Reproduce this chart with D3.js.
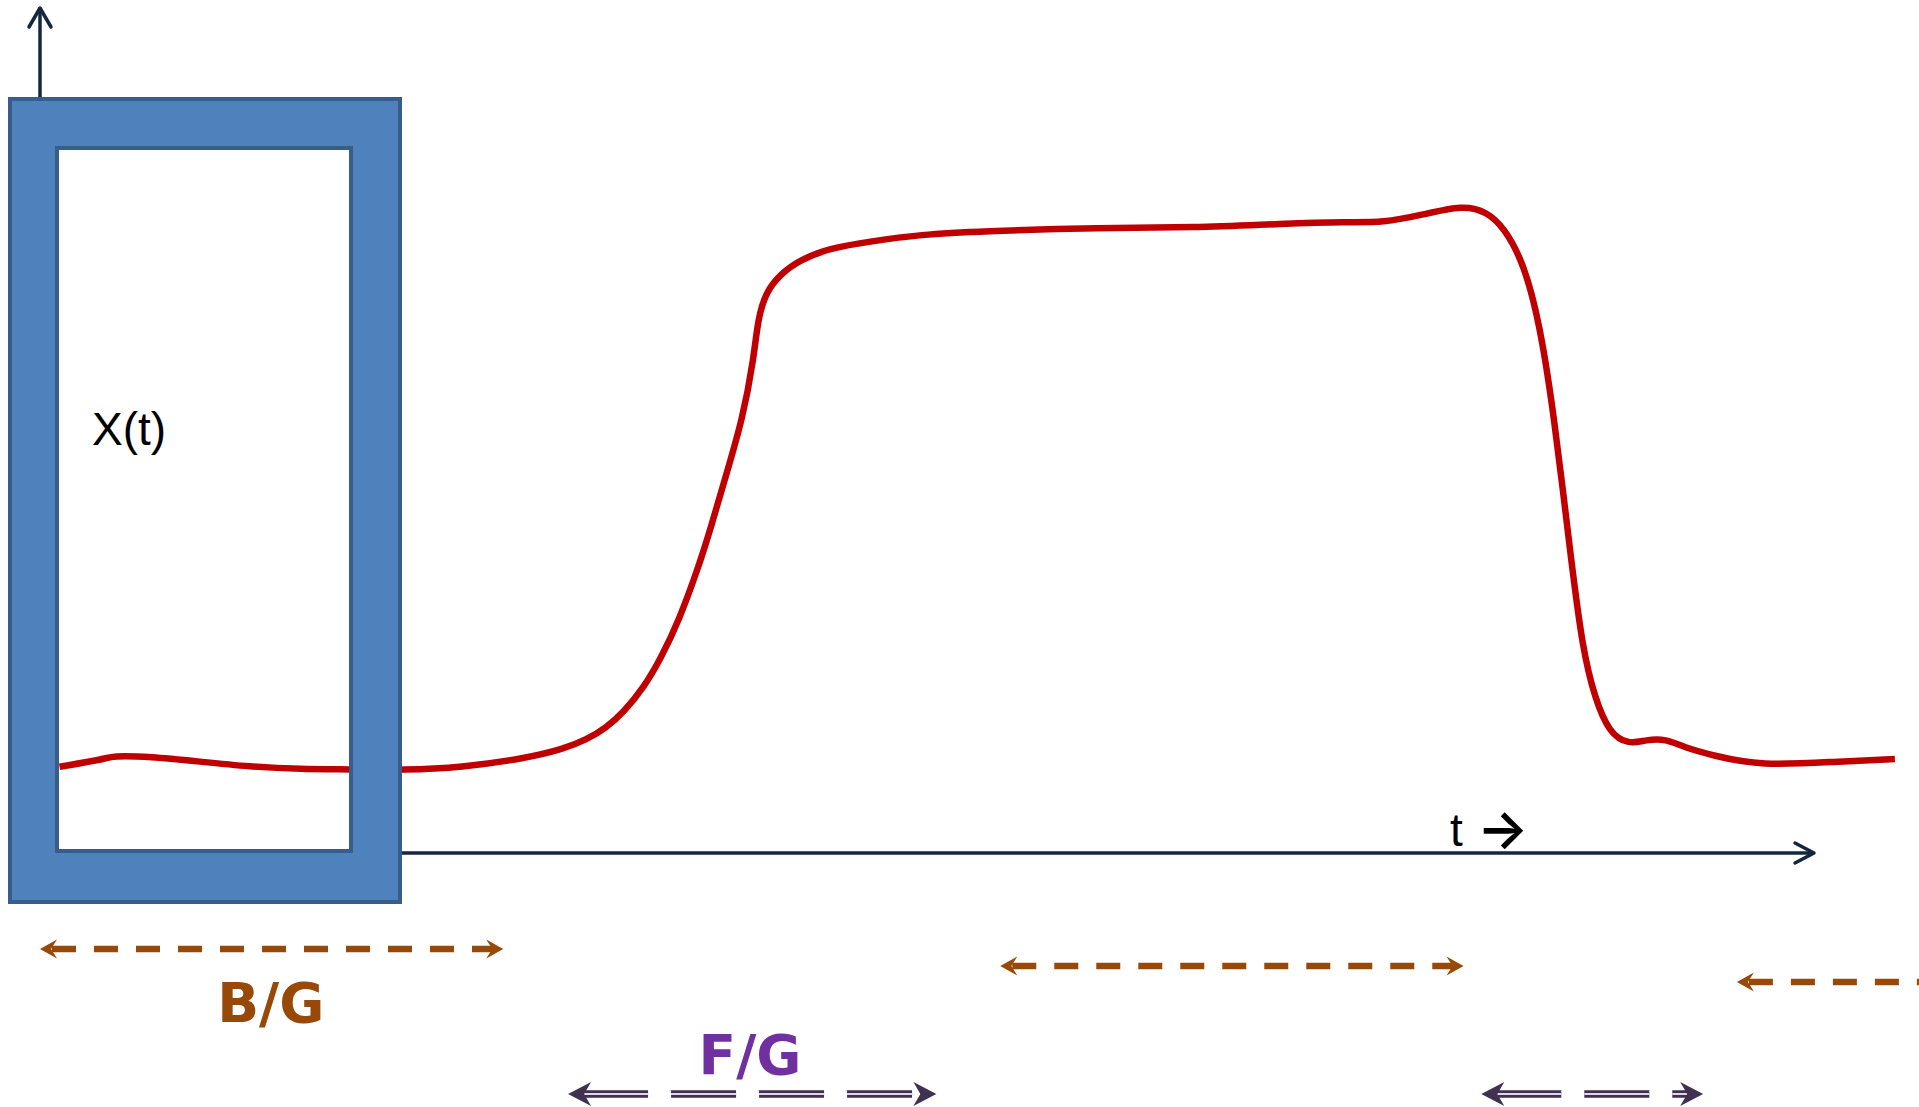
<!DOCTYPE html>
<html>
<head>
<meta charset="utf-8">
<script src="https://cdn.jsdelivr.net/npm/d3@7"></script>
<style>
html,body{margin:0;padding:0;background:#ffffff;overflow:hidden}
</style>
</head>
<body>
<svg id="chart" width="1919" height="1107"></svg>
<script>
// ---- data (t in time units 0..100 along the axis, X in signal units 0..100) ----
const curveT = [1.1, 3.7, 4.0, 6.2, 9.0, 11.8, 14.7, 17.5, 20.5, 23.7, 27.4, 29.5, 30.8, 31.9, 32.9, 34.0, 35.0, 36.0, 37.1, 37.8, 38.5, 39.6, 40.2, 40.45, 40.9, 41.7, 42.8, 44.5, 46.8, 49.6, 52.9, 59.8, 65.0, 70.1, 73.6, 75.7, 77.8, 80.2, 81.5, 82.5, 83.6, 84.5, 85.3, 86.2, 86.9, 87.6, 88.4, 89.5, 90.5, 91.6, 92.6, 94.3, 96.9, 101.2, 104.5];
const curveX = [10.2, 11.1, 11.5, 11.4, 10.8, 10.2, 9.9, 9.9, 9.8, 10.1, 11.2, 12.3, 13.4, 14.8, 16.7, 19.5, 23.1, 27.5, 33.8, 38.5, 43.6, 51.4, 58.3, 63.2, 66.3, 68.4, 70.1, 71.5, 72.3, 73.1, 73.5, 73.9, 73.9, 74.4, 74.6, 74.5, 75.4, 76.6, 75.8, 73.9, 69.7, 62.5, 51.7, 35.7, 24.1, 18.3, 14.2, 12.8, 13.4, 13.5, 12.5, 11.5, 10.3, 10.8, 11.1];

const bgSpans = [[0, 26.1], [54.1, 80.2], [95.6, 110]];   // background (B/G) intervals
const fgSpans = [[29.75, 50.5], [81.2, 93.7]];          // foreground (F/G) intervals
const spanLabels = ["B/G", "F/G"];
const spanLabelT = [13.0, 40.0];
const axisLabels = ["X(t)", "t", "\u2192"];

// ---- scales ----
const x = d3.scaleLinear().domain([0, 100]).range([40, 1815]);
const y = d3.scaleLinear().domain([0, 100]).range([853, 7]);

const svg = d3.select("#chart");
const axisColor = "#13273f";
const orange = "#984807";
const purpleText = "#7030a0";
const purpleLine = "#403151";

// ---- axes ----
svg.append("line")
  .attr("x1", x(0)).attr("y1", y(0)).attr("x2", x(0)).attr("y2", y(100) + 1)
  .attr("stroke", axisColor).attr("stroke-width", 3.5);
svg.append("path")
  .attr("d", `M${x(0) - 11},${y(100) + 20} L${x(0)},${y(100) + 1} L${x(0) + 11},${y(100) + 20}`)
  .attr("fill", "none").attr("stroke", axisColor).attr("stroke-width", 3.5)
  .attr("stroke-linecap", "round").attr("stroke-linejoin", "round");

svg.append("line")
  .attr("x1", x(0)).attr("y1", y(0)).attr("x2", x(100) - 1).attr("y2", y(0))
  .attr("stroke", axisColor).attr("stroke-width", 3.5);
svg.append("path")
  .attr("d", `M${x(100) - 20},${y(0) - 10} L${x(100) - 1},${y(0)} L${x(100) - 20},${y(0) + 10}`)
  .attr("fill", "none").attr("stroke", axisColor).attr("stroke-width", 3.5)
  .attr("stroke-linecap", "round").attr("stroke-linejoin", "round");

// ---- signal curve ----
const pts = curveT.map((t, i) => [t, curveX[i]]);
const line = d3.line().x(d => x(d[0])).y(d => y(d[1])).curve(d3.curveBasis);
svg.append("path")
  .attr("d", line(pts))
  .attr("fill", "none").attr("stroke", "#c00000").attr("stroke-width", 6.5)
  .attr("stroke-linejoin", "round");

// ---- window frame ----
const ox0 = 10, oy0 = 99, ox1 = 400, oy1 = 902;
const ix0 = 57, iy0 = 148, ix1 = 351, iy1 = 851;
svg.append("path")
  .attr("d", `M${ox0},${oy0}H${ox1}V${oy1}H${ox0}Z M${ix0},${iy0}V${iy1}H${ix1}V${iy0}Z`)
  .attr("fill", "#4f81bd").attr("fill-rule", "evenodd")
  .attr("stroke", "#385d8a").attr("stroke-width", 4);

// ---- labels ----
svg.append("text").text(axisLabels[0])
  .attr("x", 92).attr("y", 445)
  .attr("font-family", "Liberation Sans, Arial, sans-serif").attr("font-size", 46).attr("fill", "#000");
svg.append("text").text(axisLabels[1])
  .attr("x", 1450).attr("y", 846)
  .attr("font-family", "Liberation Sans, Arial, sans-serif").attr("font-size", 46).attr("fill", "#000");
svg.append("text").text(axisLabels[2])
  .attr("x", 1477).attr("y", 848)
  .attr("font-family", "Inter, DejaVu Sans, sans-serif").attr("font-weight", 600)
  .attr("font-size", 54).attr("fill", "#000");

// ---- B/G dashed arrows ----
const bgRowY = [949, 966, 982];
function stealth(tipX, cy, dir, len, half, notch, color) {
  const b = tipX + dir * len, n = tipX + dir * notch;
  svg.append("path")
    .attr("d", `M${tipX},${cy} L${b},${cy - half} L${n},${cy} L${b},${cy + half} Z`)
    .attr("fill", color);
}
bgSpans.forEach((s, i) => {
  const cy = bgRowY[i], a = x(s[0]), b = x(s[1]);
  svg.append("line")
    .attr("x1", a + 12).attr("x2", b - 10).attr("y1", cy).attr("y2", cy)
    .attr("stroke", orange).attr("stroke-width", 6.5).attr("stroke-dasharray", "24 18");
  stealth(a, cy, 1, 17, 9.5, 11, orange);
  stealth(b, cy, -1, 17, 9.5, 11, orange);
});

// ---- F/G double-line arrows ----
const fgRowY = 1094;
fgSpans.forEach(s => {
  const a = x(s[0]), b = x(s[1]);
  svg.append("line")
    .attr("x1", a + 15).attr("x2", b - 15).attr("y1", fgRowY).attr("y2", fgRowY)
    .attr("stroke", purpleLine).attr("stroke-width", 7.5).attr("stroke-dasharray", "65 23");
  svg.append("line")
    .attr("x1", a + 15).attr("x2", b - 15).attr("y1", fgRowY).attr("y2", fgRowY)
    .attr("stroke", "#ddd6e6").attr("stroke-width", 2.2).attr("stroke-dasharray", "65 23");
  stealth(a, fgRowY, 1, 23, 12, 16, purpleLine);
  stealth(b, fgRowY, -1, 23, 12, 16, purpleLine);
});

// ---- span labels ----
const labelY = [1022, 1074];
const labelColor = [orange, purpleText];
spanLabels.forEach((lab, i) => {
  svg.append("text").text(lab)
    .attr("x", x(spanLabelT[i])).attr("y", labelY[i])
    .attr("text-anchor", "middle")
    .attr("font-family", "DejaVu Sans, Verdana, sans-serif").attr("font-weight", "bold")
    .attr("font-size", 55).attr("fill", labelColor[i]);
});
</script>
</body>
</html>
